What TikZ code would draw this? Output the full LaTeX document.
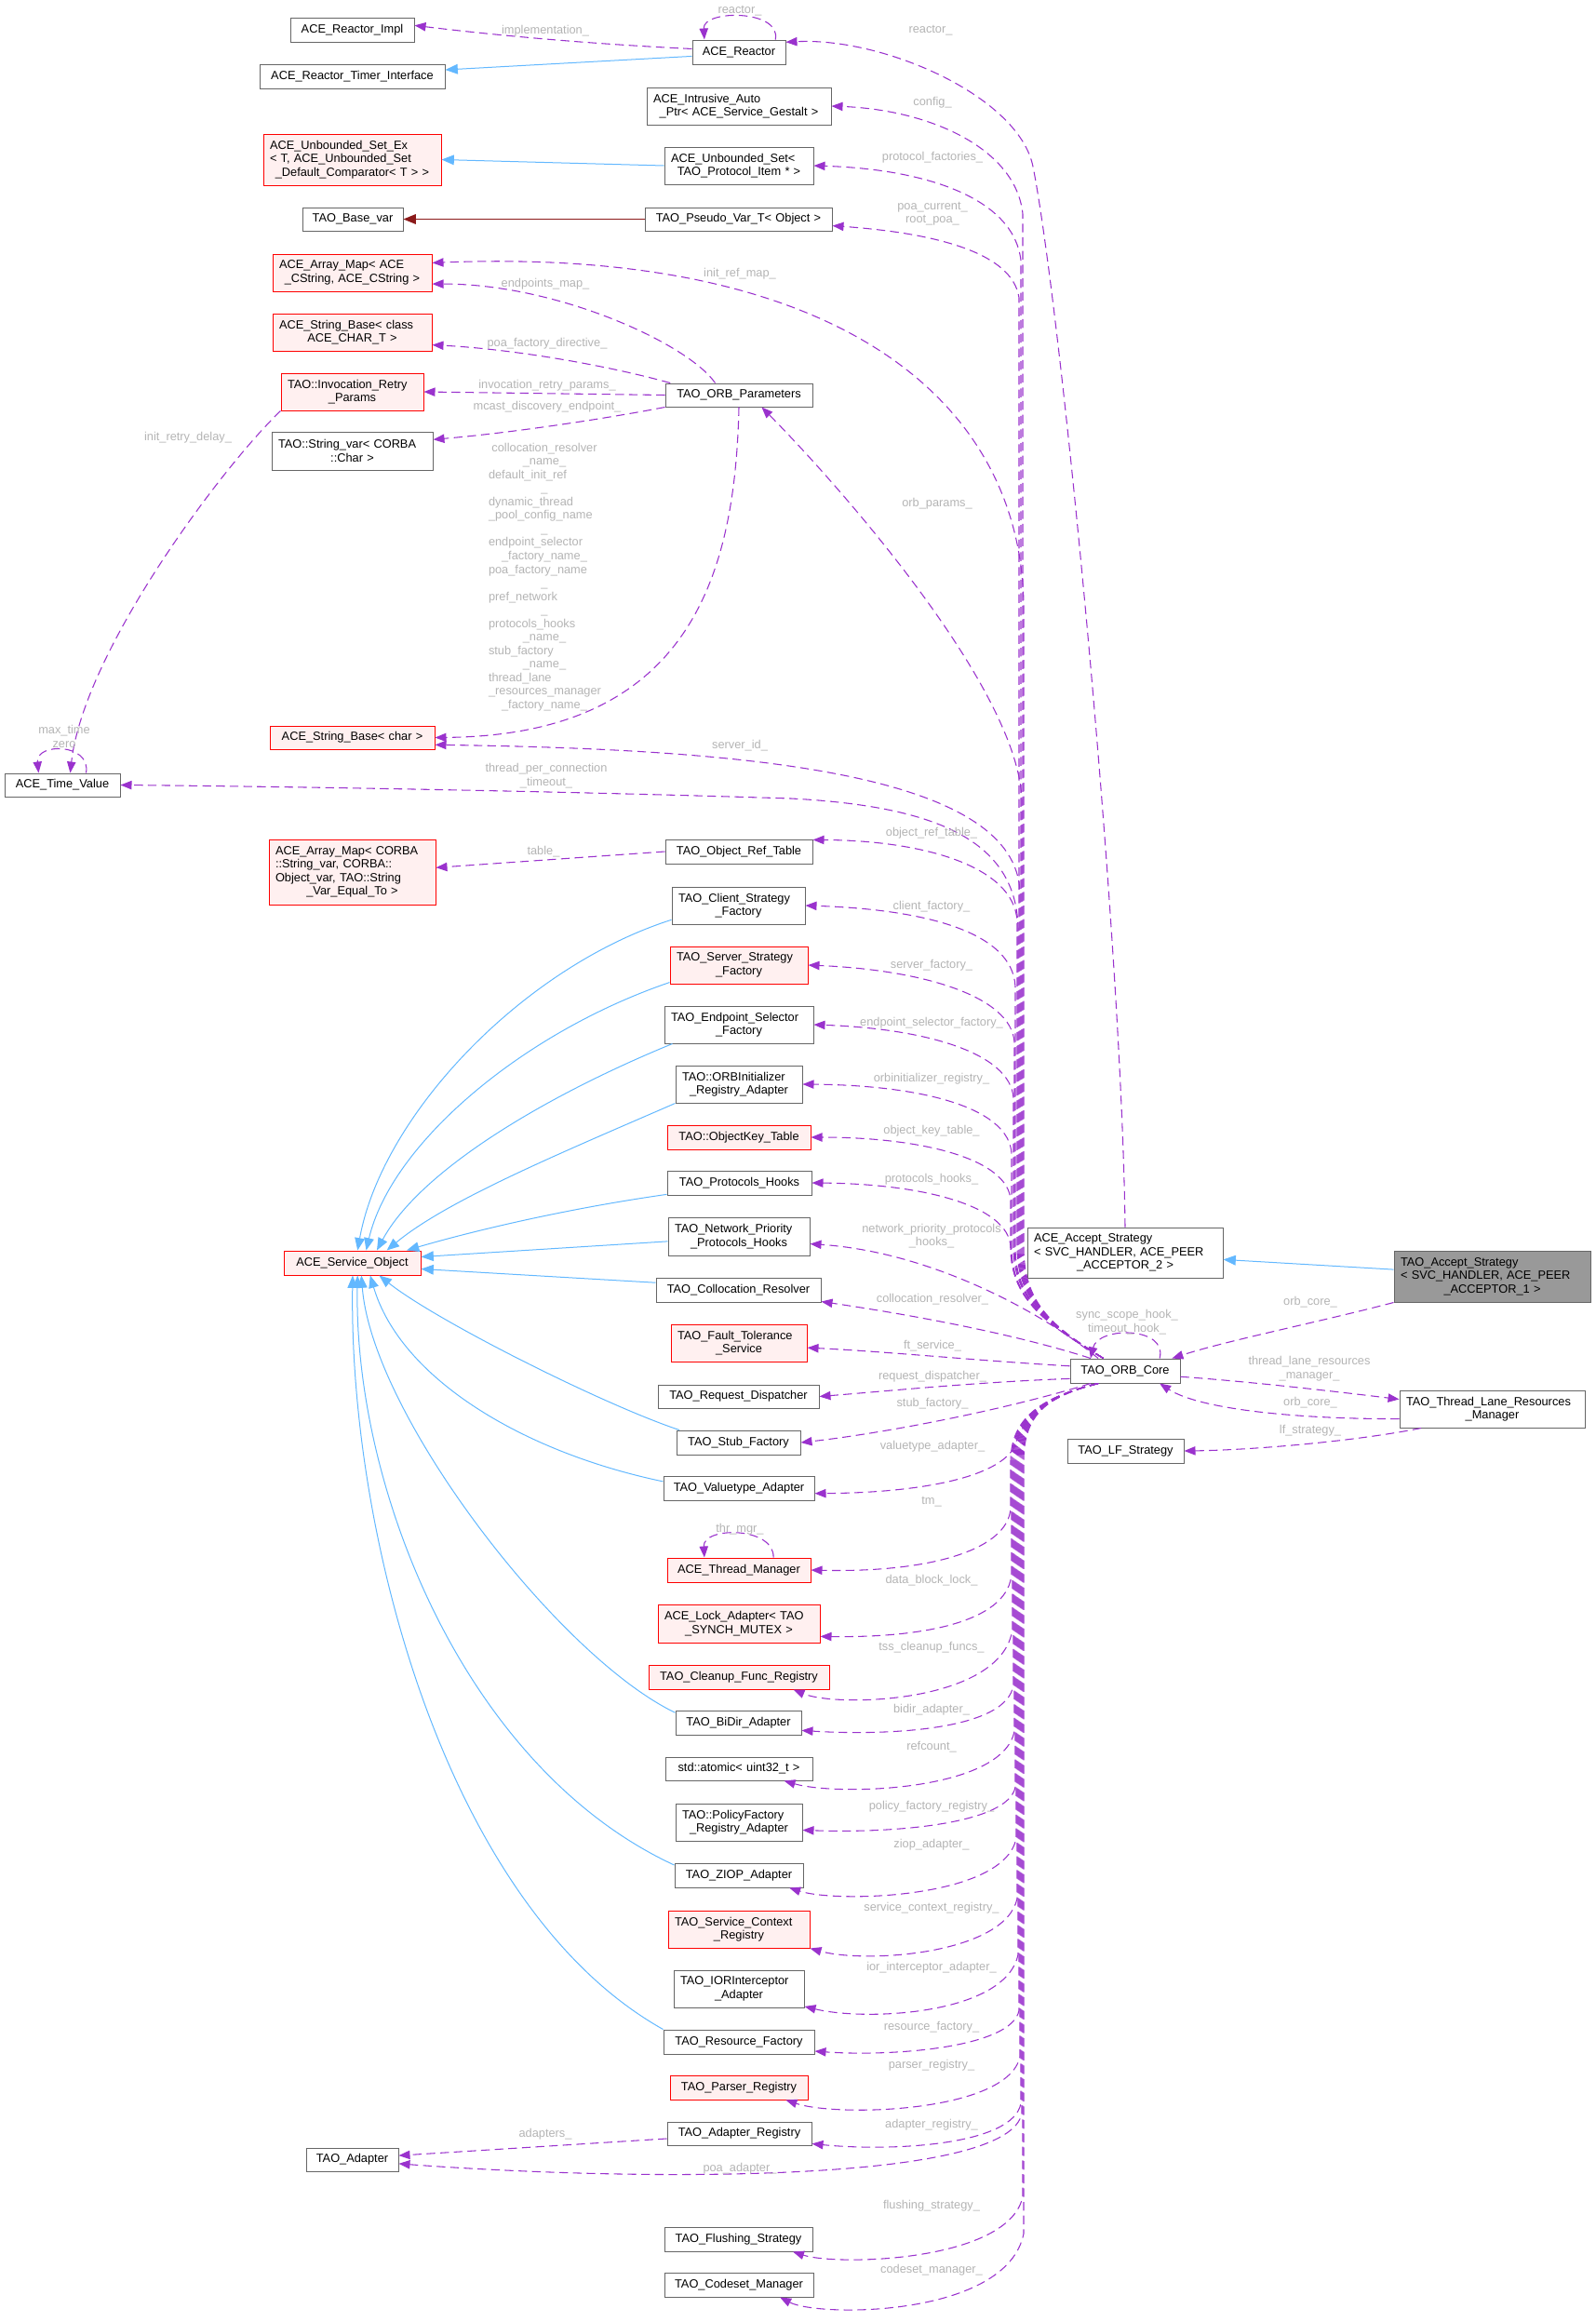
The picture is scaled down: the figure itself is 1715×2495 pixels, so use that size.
\documentclass[tikz,border=0pt]{standalone}
\usepackage{fontspec}
\setmainfont{Liberation Sans}
\usetikzlibrary{arrows.meta}
\definecolor{purp}{HTML}{9A32CD}
\definecolor{blu}{HTML}{63B8FF}
\definecolor{dred}{HTML}{8B1A1A}
\definecolor{bord}{HTML}{666666}
\definecolor{rfill}{HTML}{FFF0F0}
\definecolor{lblc}{HTML}{B4B4B4}
\definecolor{rootc}{HTML}{999999}
\newcommand\dgfont{\fontsize{9.6pt}{10.9pt}\selectfont}
\newcommand\lline[1]{\makebox[\hsize][l]{#1}}
\newcommand\dnode[7]{\node[#1, minimum width={(#4-#2)*0.75pt}, minimum height={(#5-#3)*0.75pt}, text width={(#4-#2-14)*0.75pt}] (#6) at ({(#2+#4)/2},{(#3+#5)/2}) {#7};}
\newcommand\elab[4]{\node[lbl] (#1) at (#2,#3) {#4};}
\newcommand\memup[5]{\draw[mem] (orb.150) .. controls (1130,1425) and (#2,1400) .. (#2,1340) -- (#2,#3) .. controls #4 and #5 .. (#1);}
\newcommand\memdown[5]{\draw[mem] (orb.205) .. controls (1125,1500) and (#2,1520) .. (#2,1570) -- (#2,#3) .. controls #4 and #5 .. (#1);}
\tikzset{
 nbox/.style={draw=bord, fill=white, line width=0.75pt, inner sep=0pt, align=center, font=\dgfont},
 rbox/.style={nbox, draw=red, fill=rfill},
 rootbox/.style={nbox, fill=rootc},
 lbl/.style={text=lblc, font=\dgfont, align=center, inner sep=0pt},
 mem/.style={draw=purp, line width=0.8pt, dash pattern=on 7pt off 4pt, -{Triangle[length=9pt,width=7pt]}},
 inh/.style={draw=blu, line width=0.75pt, -{Triangle[length=10pt,width=8pt]}},
 priv/.style={draw=dred, line width=0.75pt, -{Triangle[length=10pt,width=8pt]}},
}
\begin{document}
\catcode`\_=12
\begin{tikzpicture}[x=0.75pt,y=-0.75pt]
\useasboundingbox (0,0) rectangle (1715,2495);
% ---------- nodes ----------
\dnode{nbox}{312}{19}{445}{45}{rimpl}{ACE_Reactor_Impl}
\dnode{nbox}{279}{69}{478}{95}{timer}{ACE_Reactor_Timer_Interface}
\dnode{nbox}{744}{43}{844}{69}{reactor}{ACE_Reactor}
\dnode{nbox}{695}{94}{893}{134}{iap}{\lline{ACE_Intrusive_Auto}\\_Ptr< ACE_Service_Gestalt >}
\dnode{rbox}{283}{144}{474}{199}{usetex}{\lline{ACE_Unbounded_Set_Ex}\\\lline{< T, ACE_Unbounded_Set}\\_Default_Comparator< T > >}
\dnode{nbox}{714}{158}{874}{198}{uset}{\lline{ACE_Unbounded_Set<}\\TAO_Protocol_Item * >}
\dnode{nbox}{325}{223}{433}{248}{basevar}{TAO_Base_var}
\dnode{nbox}{693}{223}{894}{248}{pseudo}{TAO_Pseudo_Var_T< Object >}
\dnode{rbox}{293}{273}{464}{313}{amap1}{\lline{ACE_Array_Map< ACE}\\_CString, ACE_CString >}
\dnode{rbox}{293}{337}{464}{377}{asb1}{\lline{ACE_String_Base< class}\\ACE_CHAR_T >}
\dnode{rbox}{302}{401}{455}{441}{irp}{\lline{TAO::Invocation_Retry}\\_Params}
\dnode{nbox}{715}{412}{873}{437}{op}{TAO_ORB_Parameters}
\dnode{nbox}{292}{464}{465}{505}{sv}{\lline{TAO::String_var< CORBA}\\::Char >}
\dnode{rbox}{290}{780}{467}{805}{asbc}{ACE_String_Base< char >}
\dnode{nbox}{5}{831}{129}{856}{tv}{ACE_Time_Value}
\dnode{rbox}{289}{902}{468}{972}{amapC}{\lline{ACE_Array_Map< CORBA}\\\lline{::String_var, CORBA::}\\\lline{Object_var, TAO::String}\\_Var_Equal_To >}
\dnode{nbox}{715}{902}{873}{928}{orf}{TAO_Object_Ref_Table}
\dnode{nbox}{722}{953}{865}{993}{csf}{\lline{TAO_Client_Strategy}\\_Factory}
\dnode{rbox}{720}{1017}{868}{1057}{ssf}{\lline{TAO_Server_Strategy}\\_Factory}
\dnode{nbox}{714}{1081}{874}{1121}{esf}{\lline{TAO_Endpoint_Selector}\\_Factory}
\dnode{nbox}{726}{1145}{862}{1185}{ora}{\lline{TAO::ORBInitializer}\\_Registry_Adapter}
\dnode{rbox}{717}{1209}{871}{1235}{okt}{TAO::ObjectKey_Table}
\dnode{nbox}{717}{1258}{872}{1284}{ph}{TAO_Protocols_Hooks}
\dnode{nbox}{718}{1308}{870}{1349}{npp}{\lline{TAO_Network_Priority}\\_Protocols_Hooks}
\dnode{rbox}{305}{1344}{452}{1370}{so}{ACE_Service_Object}
\dnode{nbox}{705}{1373}{882}{1399}{cr}{TAO_Collocation_Resolver}
\dnode{rbox}{721}{1423}{867}{1463}{fts}{\lline{TAO_Fault_Tolerance}\\_Service}
\dnode{nbox}{707}{1488}{880}{1513}{rd}{TAO_Request_Dispatcher}
\dnode{nbox}{727}{1537}{860}{1563}{sf}{TAO_Stub_Factory}
\dnode{nbox}{713}{1586}{875}{1612}{vta}{TAO_Valuetype_Adapter}
\dnode{rbox}{717}{1674}{871}{1700}{atm}{ACE_Thread_Manager}
\dnode{rbox}{707}{1724}{881}{1765}{lock}{\lline{ACE_Lock_Adapter< TAO}\\_SYNCH_MUTEX >}
\dnode{rbox}{697}{1789}{891}{1815}{cfr}{TAO_Cleanup_Func_Registry}
\dnode{nbox}{726}{1838}{861}{1864}{bda}{TAO_BiDir_Adapter}
\dnode{nbox}{715}{1888}{873}{1913}{atom}{std::atomic< uint32_t >}
\dnode{nbox}{726}{1938}{862}{1978}{pfr}{\lline{TAO::PolicyFactory}\\_Registry_Adapter}
\dnode{nbox}{725}{2002}{863}{2028}{ziop}{TAO_ZIOP_Adapter}
\dnode{rbox}{718}{2053}{870}{2093}{scr}{\lline{TAO_Service_Context}\\_Registry}
\dnode{nbox}{724}{2117}{864}{2157}{ior}{\lline{TAO_IORInterceptor}\\_Adapter}
\dnode{nbox}{713}{2181}{875}{2207}{rf}{TAO_Resource_Factory}
\dnode{rbox}{720}{2230}{868}{2256}{pr}{TAO_Parser_Registry}
\dnode{nbox}{717}{2280}{872}{2305}{areg}{TAO_Adapter_Registry}
\dnode{nbox}{329}{2308}{428}{2333}{tadp}{TAO_Adapter}
\dnode{nbox}{714}{2393}{873}{2419}{fs}{TAO_Flushing_Strategy}
\dnode{nbox}{714}{2442}{874}{2468}{cm}{TAO_Codeset_Manager}
\dnode{nbox}{1104}{1319}{1314}{1373}{aacc}{\lline{ACE_Accept_Strategy}\\\lline{< SVC_HANDLER, ACE_PEER}\\_ACCEPTOR_2 >}
\dnode{rootbox}{1498}{1344}{1709}{1399}{tacc}{\lline{TAO_Accept_Strategy}\\\lline{< SVC_HANDLER, ACE_PEER}\\_ACCEPTOR_1 >}
\dnode{nbox}{1150}{1460}{1268}{1486}{orb}{TAO_ORB_Core}
\dnode{nbox}{1504}{1494}{1703}{1534}{tlrm}{\lline{TAO_Thread_Lane_Resources}\\_Manager}
\dnode{nbox}{1147}{1546}{1272}{1572}{lfs}{TAO_LF_Strategy}
% ---------- inheritance ----------
\draw[inh] (reactor.185) -- (timer.4);
\draw[inh] (uset.west) -- (usetex.east);
\draw[priv] (pseudo.west) -- (basevar.east);
\draw[inh] (tacc.176) -- (aacc.-4);
\draw[inh] (csf.192) .. controls (560,1040) and (410,1200) .. (so.67);
\draw[inh] (ssf.194) .. controls (560,1110) and (420,1230) .. (so.42);
\draw[inh] (esf.196) .. controls (580,1180) and (450,1260) .. (so.27);
\draw[inh] (ora.south west) .. controls (600,1240) and (480,1290) .. (so.20);
\draw[inh] (ph.189) .. controls (600,1300) and (500,1325) .. (so.13);
\draw[inh] (npp.184) -- (so.5);
\draw[inh] (cr.175) -- (so.-5);
\draw[inh] (sf.168) .. controls (650,1510) and (470,1420) .. (so.-25);
\draw[inh] (vta.175) .. controls (560,1560) and (430,1480) .. (so.-35);
\draw[inh] (bda.171) .. controls (600,1780) and (400,1520) .. (so.-54);
\draw[inh] (ziop.171) .. controls (500,1900) and (380,1600) .. (so.-67);
\draw[inh] (rf.north west) .. controls (480,2050) and (375,1650) .. (so.-88);
% ---------- members not from ORB core ----------
\draw[mem] (reactor.176) .. controls (650,48) and (550,40) .. (rimpl.4);
\draw[mem] (reactor.19) .. controls (840,10) and (755,10) .. (reactor.160);
\draw[mem] (aacc.north) .. controls (1205,1000) and (1140,330) .. (1110,179) .. controls (1095,104) and (950,40) .. (reactor.12);
\draw[mem] (op.153) .. controls (740,370) and (600,305) .. (amap1.-8);
\draw[mem] (op.170) .. controls (650,392) and (550,375) .. (asb1.-9);
\draw[mem] (op.west) -- (irp.east);
\draw[mem] (op.south west) .. controls (650,450) and (550,465) .. (sv.8);
\draw[mem] (op.south) .. controls (790,620) and (740,790) .. (asbc.east);
\draw[mem] (irp.south west) .. controls (240,500) and (90,700) .. (tv.57);
\draw[mem] (tv.27) .. controls (98,798) and (38,798) .. (tv.153);
\draw[mem] (orf.west) -- (amapC.3);
\draw[mem] (areg.184) -- (tadp.5);
\draw[mem] (atm.20) .. controls (832,1640) and (755,1640) .. (atm.160);
\draw[mem] (orb.20) .. controls (1255,1425) and (1180,1425) .. (orb.160);
\draw[mem] (tacc.south west) .. controls (1420,1420) and (1320,1440) .. (orb.15);
\draw[mem] (orb.-6) .. controls (1350,1485) and (1450,1497) .. (tlrm.174);
\draw[mem] (tlrm.186) .. controls (1400,1525) and (1290,1515) .. (orb.-20);
\draw[mem] (tlrm.195) .. controls (1460,1548) and (1350,1558) .. (lfs.east);
% ---------- ORB core upper bundle ----------
\memup{iap.east}{1099}{230}{(1092,160)}{(1000,118)}
\memup{uset.east}{1097}{280}{(1090,215)}{(1000,182)}
\memup{pseudo.-4}{1095}{320}{(1088,270)}{(1000,250)}
\memup{amap1.7}{1100}{650}{(1097,430)}{(900,265)}
\memup{op.-28}{1098}{860}{(1095,740)}{(900,520)}
\memup{asbc.-5}{1096}{960}{(1094,830)}{(800,805)}
\draw[mem] (orb.150) .. controls (1130,1425) and (1094,1400) .. (1094,1340) -- (1094,1000) .. controls (1094,900) and (1000,866) .. (850,858) .. controls (600,850) and (300,845) .. (tv.east);
\memup{orf.9}{1093}{990}{(1090,930)}{(990,903)}
\memup{csf.east}{1091}{1060}{(1088,1000)}{(990,977)}
\memup{ssf.east}{1090}{1120}{(1087,1070)}{(990,1042)}
\memup{esf.east}{1089}{1180}{(1086,1130)}{(990,1105)}
\memup{ora.east}{1087}{1240}{(1085,1190)}{(990,1166)}
\memup{okt.east}{1086}{1290}{(1084,1245)}{(990,1222)}
\memup{ph.east}{1086}{1340}{(1084,1295)}{(990,1272)}
% ---------- ORB core direct ----------
\draw[mem] (orb.155) .. controls (1120,1410) and (1000,1345) .. (npp.-6);
\draw[mem] (orb.160) .. controls (1080,1430) and (960,1410) .. (cr.-8);
\draw[mem] (orb.175) .. controls (1050,1462) and (950,1452) .. (fts.-4);
\draw[mem] (orb.188) .. controls (1050,1485) and (950,1495) .. (rd.east);
\draw[mem] (orb.200) .. controls (1080,1515) and (950,1540) .. (sf.east);
\draw[mem] (orb.205) .. controls (1125,1500) and (1098,1525) .. (1090,1555) .. controls (1070,1590) and (980,1604) .. (vta.-4);
% ---------- ORB core lower bundle ----------
\memdown{atm.east}{1086}{1620}{(1084,1665)}{(1000,1690)}
\memdown{lock.-9}{1087}{1690}{(1085,1740)}{(1000,1760)}
\memdown{cfr.-13}{1088}{1750}{(1078,1830)}{(900,1835)}
\memdown{bda.-7}{1089}{1810}{(1083,1860)}{(950,1865)}
\memdown{atom.-15}{1090}{1860}{(1078,1925)}{(900,1930)}
\memdown{pfr.-7}{1091}{1920}{(1084,1960)}{(960,1970)}
\memdown{ziop.-14}{1092}{1975}{(1080,2040)}{(900,2045)}
\memdown{scr.-15}{1093}{2040}{(1080,2100)}{(930,2110)}
\memdown{ior.-15}{1094}{2100}{(1081,2165)}{(930,2172)}
\memdown{rf.-7}{1095}{2160}{(1088,2200)}{(960,2210)}
\memdown{pr.-15}{1096}{2210}{(1083,2270)}{(900,2275)}
\memdown{areg.-8}{1097}{2260}{(1089,2305)}{(960,2312)}
\memdown{tadp.-5}{1098}{2270}{(1088,2345)}{(700,2345)}
\memdown{fs.-13}{1099}{2360}{(1085,2430)}{(900,2435)}
\memdown{cm.-17}{1100}{2400}{(1082,2490)}{(880,2490)}
% ---------- labels ----------
\elab{l1}{586}{33}{implementation_}
\elab{l2}{795}{12}{reactor_}
\elab{l3}{1000}{33}{reactor_}
\elab{l4}{1002}{110}{config_}
\elab{l5}{1002}{169}{protocol_factories_}
\elab{l6}{1002}{229.5}{poa_current_\\root_poa_}
\elab{l7}{795}{294}{init_ref_map_}
\elab{l8}{586}{305}{endpoints_map_}
\elab{l9}{588}{369}{poa_factory_directive_}
\elab{l10}{588}{414}{invocation_retry_params_}
\elab{l11}{588}{437}{mcast_discovery_endpoint_}
\elab{l12}{202}{470}{init_retry_delay_}
\node[lbl, text width=90pt] (l13) at (585,620) {collocation_resolver\\_name_\\\lline{default_init_ref}\\_\\\lline{dynamic_thread}\\\lline{_pool_config_name}\\_\\\lline{endpoint_selector}\\_factory_name_\\\lline{poa_factory_name}\\_\\\lline{pref_network}\\_\\\lline{protocols_hooks}\\_name_\\\lline{stub_factory}\\_name_\\\lline{thread_lane}\\\lline{_resources_manager}\\_factory_name_};
\elab{l14}{1007}{541}{orb_params_}
\elab{l15}{69}{791.5}{max_time\\zero}
\elab{l16}{795}{801}{server_id_}
\elab{l17}{587}{833.5}{thread_per_connection\\_timeout_}
\elab{l18}{1001}{895}{object_ref_table_}
\elab{l19}{584}{915}{table_}
\elab{l20}{1001}{974}{client_factory_}
\elab{l21}{1001}{1037}{server_factory_}
\elab{l22}{1001}{1099}{endpoint_selector_factory_}
\elab{l23}{1001}{1159}{orbinitializer_registry_}
\elab{l24}{1001}{1215}{object_key_table_}
\elab{l25}{1001}{1267}{protocols_hooks_}
\elab{l26}{1001}{1328}{network_priority_protocols\\_hooks_}
\elab{l27}{1002}{1396}{collocation_resolver_}
\elab{l28}{1002}{1446}{ft_service_}
\elab{l29}{1002}{1479}{request_dispatcher_}
\elab{l30}{1002}{1508}{stub_factory_}
\elab{l31}{1002}{1554}{valuetype_adapter_}
\elab{l32}{1001}{1614}{tm_}
\elab{l33}{795}{1643}{thr_mgr_}
\elab{l34}{1001}{1698}{data_block_lock_}
\elab{l35}{1001}{1770}{tss_cleanup_funcs_}
\elab{l36}{1001}{1837}{bidir_adapter_}
\elab{l37}{1001}{1877}{refcount_}
\elab{l38}{1001}{1941}{policy_factory_registry_}
\elab{l39}{1001}{1982}{ziop_adapter_}
\elab{l40}{1001}{2050}{service_context_registry_}
\elab{l41}{1001}{2114}{ior_interceptor_adapter_}
\elab{l42}{1001}{2178}{resource_factory_}
\elab{l43}{1001}{2219}{parser_registry_}
\elab{l44}{1001}{2283}{adapter_registry_}
\elab{l45}{586}{2293}{adapters_}
\elab{l46}{795}{2330}{poa_adapter_}
\elab{l47}{1001}{2370}{flushing_strategy_}
\elab{l48}{1001}{2439}{codeset_manager_}
\elab{l49}{1408}{1399}{orb_core_}
\elab{l50}{1211}{1420.5}{sync_scope_hook_\\timeout_hook_}
\elab{l51}{1407}{1470.5}{thread_lane_resources\\_manager_}
\elab{l52}{1408}{1507}{orb_core_}
\elab{l53}{1408}{1537}{lf_strategy_}
\end{tikzpicture}
\end{document}
